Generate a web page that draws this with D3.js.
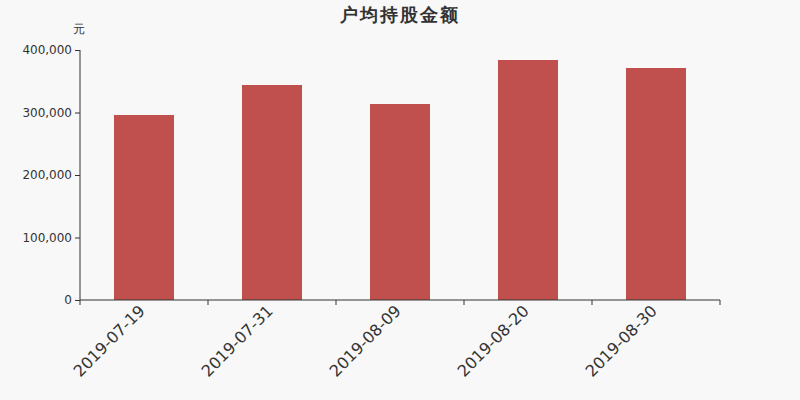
<!DOCTYPE html>
<html>
<head>
<meta charset="utf-8">
<script src="https://cdn.jsdelivr.net/npm/d3@7"></script>
<style>
  body { margin: 0; background: #f8f8f8; }
  svg { display: block; }
  svg text { font-family: "DejaVu Sans", sans-serif; }
</style>
</head>
<body>
<script>
var dates = ["2019-07-19", "2019-07-31", "2019-08-09", "2019-08-20", "2019-08-30"];
var values = [296000, 344000, 313600, 384000, 371200];
var yTicks = [0, 100000, 200000, 300000, 400000];

var width = 800;
var height = 400;
var margin = { top: 50, right: 80, bottom: 100, left: 80 };

var svg = d3.select("body")
  .append("svg")
  .attr("width", width)
  .attr("height", height);

svg.append("rect")
  .attr("width", width)
  .attr("height", height)
  .attr("fill", "#f8f8f8");

var x = d3.scaleBand()
  .domain(dates)
  .range([margin.left, width - margin.right]);

var y = d3.scaleLinear()
  .domain([0, 400000])
  .range([height - margin.bottom, margin.top]);

// bars
svg.selectAll("rect.bar")
  .data(values)
  .enter()
  .append("rect")
  .attr("class", "bar")
  .attr("x", function (d, i) { return x(dates[i]) + (x.bandwidth() - 60) / 2; })
  .attr("width", 60)
  .attr("y", function (d) { return y(d); })
  .attr("height", function (d) { return y(0) - y(d); })
  .attr("fill", "#c0504e");

// y axis
var yAxis = svg.append("g")
  .attr("transform", "translate(" + margin.left + ",0)")
  .call(d3.axisLeft(y)
    .tickValues(yTicks)
    .tickSize(5)
    .tickPadding(3)
    .tickFormat(d3.format(",")));
yAxis.attr("font-family", null);
yAxis.select(".domain").attr("stroke", "#333").attr("d", "M0," + y(400000) + "V" + y(0));
yAxis.selectAll(".tick line").attr("stroke", "#333");
yAxis.selectAll("text").attr("fill", "#333").attr("font-size", 12);

// x axis
var xAxis = svg.append("g")
  .attr("transform", "translate(0," + y(0) + ")")
  .call(d3.axisBottom(x).tickSize(0).tickPadding(0));
xAxis.attr("font-family", null);
xAxis.select(".domain").attr("stroke", "#333").attr("d", "M" + margin.left + ",0H" + (width - margin.right));
xAxis.selectAll(".tick line").remove();
xAxis.selectAll(".tick text")
  .attr("fill", "#333")
  .attr("font-size", 16)
  .attr("text-anchor", "end")
  .attr("dy", "0.35em")
  .attr("transform", "translate(-2,8) rotate(-45)");

// boundary ticks between categories
var bounds = dates.map(function (d) { return x(d); }).concat([width - margin.right]);
svg.selectAll("line.bt")
  .data(bounds)
  .enter()
  .append("line")
  .attr("class", "bt")
  .attr("x1", function (d) { return d; })
  .attr("x2", function (d) { return d; })
  .attr("y1", y(0))
  .attr("y2", y(0) + 5)
  .attr("stroke", "#333");

// title
svg.append("text")
  .attr("x", width / 2)
  .attr("y", 21)
  .attr("text-anchor", "middle")
  .attr("font-size", 18)
  .attr("letter-spacing", 2)
  .attr("font-weight", "bold")
  .attr("fill", "#333")
  .text("户均持股金额");

// unit
svg.append("text")
  .attr("x", 79)
  .attr("y", 33)
  .attr("text-anchor", "middle")
  .attr("font-size", 12)
  .attr("fill", "#333")
  .text("元");
</script>
</body>
</html>
